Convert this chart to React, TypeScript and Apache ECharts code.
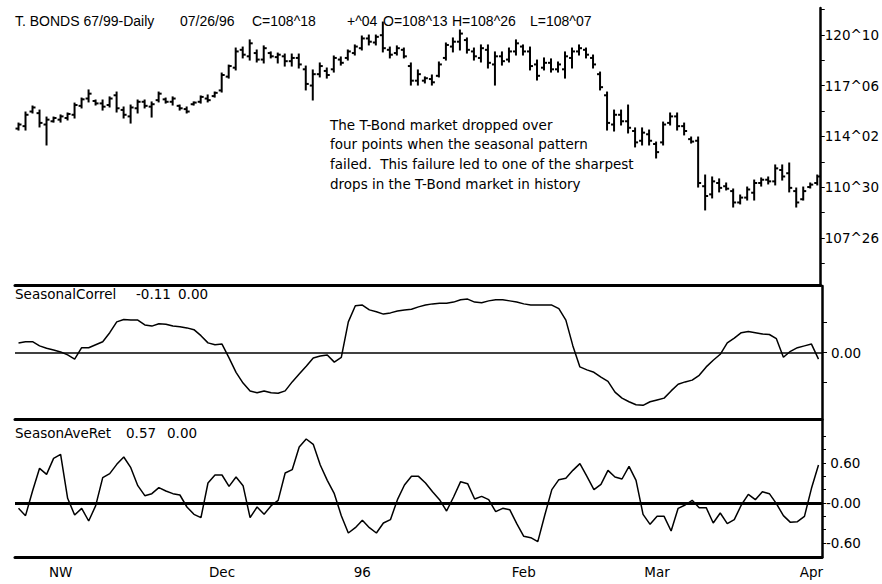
import React, { useEffect, useRef } from 'react';
import * as echarts from 'echarts';

const FONT = '"DejaVu Sans", Arial, Helvetica, sans-serif';
const TITLE_FONT = '"Liberation Sans", Arial, Helvetica, sans-serif';
const FS = 13.5;

// Daily T-Bond bars (points, decimal)
const highs = [
  114.89, 115.57, 115.94, 115.69, 115.26, 115.26, 115.39, 115.51, 116.12, 116.43,
  116.93, 116.31, 116.31, 116.5, 116.8, 115.88, 116.0, 116.31, 116.31, 116.19,
  116.8, 116.43, 116.5, 116.0, 115.88, 116.19, 116.56, 116.62, 116.8, 117.97,
  118.46, 119.51, 119.57, 120.01, 119.39, 119.64, 119.27, 119.2, 119.14, 119.14,
  119.14, 118.4, 118.16, 118.59, 118.28, 119.02, 118.96, 119.39, 119.7, 120.25,
  120.31, 120.31, 121.11, 119.57, 119.64, 119.51, 118.59, 118.16, 117.73, 117.85,
  118.65, 119.82, 120.13, 120.62, 120.13, 119.51, 119.7, 119.7, 119.27, 119.27,
  119.51, 120.01, 119.7, 119.57, 118.77, 118.9, 118.84, 118.65, 119.27, 119.51,
  119.7, 119.51, 119.08, 118.03, 116.8, 115.69, 115.69, 116.0, 114.59, 114.59,
  114.46, 113.72, 114.95, 115.51, 115.51, 114.89, 114.03, 114.03, 111.69, 111.57,
  111.45, 111.2, 110.83, 110.46, 110.95, 111.38, 111.51, 111.57, 112.31, 112.31,
  112.43, 110.89, 110.95, 111.2, 111.69,
];
const lows = [
  114.46, 114.46, 115.51, 114.65, 113.54, 114.95, 114.95, 115.08, 115.2, 115.82,
  116.19, 116.0, 115.69, 115.88, 115.57, 115.2, 114.89, 115.51, 115.82, 115.26,
  116.19, 116.12, 116.0, 115.69, 115.51, 116.0, 116.12, 116.19, 116.49, 116.8,
  117.66, 118.16, 118.9, 118.77, 118.65, 118.59, 118.9, 118.59, 118.4, 118.4,
  118.28, 116.93, 116.31, 117.73, 117.66, 118.03, 118.46, 118.77, 119.08, 119.39,
  119.7, 119.7, 119.27, 118.9, 119.08, 118.9, 117.23, 117.23, 117.36, 117.23,
  117.73, 118.77, 119.27, 119.39, 119.2, 118.77, 118.65, 118.28, 117.23, 118.46,
  118.65, 119.08, 119.08, 118.16, 117.54, 118.16, 118.03, 118.03, 117.66, 118.28,
  119.08, 118.9, 118.28, 116.93, 114.46, 114.4, 114.77, 114.28, 113.42, 113.54,
  113.54, 112.74, 113.54, 114.77, 114.46, 114.16, 113.66, 110.95, 109.54, 110.28,
  110.65, 110.77, 109.72, 109.91, 110.15, 110.15, 111.01, 111.14, 111.08, 111.38,
  110.65, 109.72, 110.15, 110.89, 111.08,
];
const opens = [
  114.55, 114.7, 115.6, 115.5, 114.8, 115.0, 115.1, 115.2, 115.4, 115.95,
  116.4, 116.25, 116.1, 116.0, 116.6, 115.7, 115.3, 115.8, 116.2, 115.9,
  116.3, 116.35, 116.2, 115.95, 115.75, 116.05, 116.2, 116.4, 116.55, 116.9,
  117.75, 118.3, 119.4, 119.0, 119.2, 118.8, 119.2, 118.95, 119.0, 118.7,
  118.9, 118.2, 117.2, 117.9, 118.1, 118.2, 118.8, 118.9, 119.2, 119.5,
  120.1, 119.85, 120.3, 119.4, 119.2, 119.4, 118.4, 117.5, 117.5, 117.6,
  117.8, 118.9, 119.6, 119.9, 120.0, 119.3, 118.9, 119.4, 118.5, 119.0,
  118.8, 119.3, 119.6, 119.3, 118.5, 118.3, 118.6, 118.2, 118.2, 118.9,
  119.3, 119.4, 118.9, 117.9, 116.6, 114.8, 115.4, 115.0, 114.4, 113.8,
  114.2, 113.6, 113.7, 114.9, 115.3, 114.7, 113.9, 113.8, 111.0, 110.5,
  111.2, 111.0, 110.7, 110.0, 110.3, 110.6, 111.2, 111.4, 111.3, 112.0,
  111.8, 110.7, 110.2, 110.95, 111.2,
];
const closes = [
  114.8, 115.4, 115.85, 114.9, 115.1, 115.2, 115.3, 115.45, 116.0, 116.35,
  116.7, 116.1, 115.9, 116.4, 115.8, 115.4, 115.85, 116.2, 115.95, 116.05,
  116.7, 116.2, 116.4, 115.8, 115.6, 116.15, 116.5, 116.3, 116.75, 117.85,
  118.4, 119.3, 119.1, 119.8, 118.8, 119.5, 119.0, 119.1, 118.7, 118.9,
  118.5, 117.3, 117.9, 118.4, 117.85, 118.9, 118.6, 119.3, 119.6, 120.1,
  119.9, 120.2, 119.5, 119.1, 119.5, 119.0, 117.5, 117.9, 117.65, 117.4,
  118.5, 119.7, 119.9, 120.4, 119.4, 119.0, 119.5, 118.6, 119.0, 118.7,
  119.3, 119.8, 119.3, 118.4, 117.8, 118.6, 118.2, 118.5, 119.0, 119.3,
  119.5, 119.1, 118.5, 117.1, 114.9, 115.4, 115.0, 114.6, 113.7, 114.3,
  113.8, 113.1, 114.8, 115.3, 114.7, 114.4, 113.75, 111.2, 110.4, 111.3,
  110.9, 110.85, 110.0, 110.3, 110.8, 111.2, 111.4, 111.3, 112.1, 111.6,
  110.9, 110.0, 110.7, 111.1, 111.6,
];

const seasonalCorrel = [
  0.16, 0.18, 0.18, 0.11, 0.07, 0.04, 0.01, -0.04, -0.11, 0.08,
  0.08, 0.13, 0.18, 0.33, 0.51, 0.55, 0.54, 0.54, 0.46, 0.44,
  0.48, 0.47, 0.44, 0.43, 0.41, 0.38, 0.28, 0.16, 0.13, 0.14,
  -0.09, -0.33, -0.51, -0.64, -0.67, -0.64, -0.67, -0.68, -0.64, -0.49,
  -0.36, -0.23, -0.09, -0.06, -0.04, -0.16, -0.08, 0.51, 0.78, 0.79,
  0.71, 0.68, 0.64, 0.66, 0.69, 0.71, 0.72, 0.76, 0.79, 0.81,
  0.82, 0.82, 0.84, 0.88, 0.89, 0.84, 0.83, 0.86, 0.88, 0.88,
  0.86, 0.84, 0.81, 0.79, 0.79, 0.79, 0.79, 0.73, 0.54, 0.11,
  -0.24, -0.29, -0.33, -0.41, -0.48, -0.66, -0.76, -0.82, -0.87, -0.88,
  -0.82, -0.79, -0.76, -0.64, -0.53, -0.49, -0.46, -0.38, -0.24, -0.13,
  -0.03, 0.16, 0.24, 0.33, 0.35, 0.33, 0.31, 0.3, 0.23, -0.08,
  0.02, 0.08, 0.11, 0.14, -0.11,
];

const seasonAveRet = [
  -0.08, -0.19, 0.18, 0.52, 0.43, 0.67, 0.73, 0.07, -0.18, -0.08,
  -0.27, -0.04, 0.38, 0.44, 0.58, 0.69, 0.53, 0.26, 0.11, 0.14,
  0.23, 0.18, 0.14, 0.12, -0.06, -0.17, -0.22, 0.3, 0.42, 0.42,
  0.25, 0.39, 0.26, -0.22, -0.06, -0.17, -0.04, 0.04, 0.45, 0.5,
  0.84, 0.96, 0.88, 0.57, 0.34, 0.14, -0.19, -0.45, -0.37, -0.26,
  -0.37, -0.45, -0.3, -0.25, 0.05, 0.27, 0.4, 0.4, 0.3, 0.17,
  0.05, -0.12, 0.09, 0.32, 0.29, 0.06, 0.1, 0.05, -0.13, -0.08,
  -0.1, -0.31, -0.5, -0.52, -0.58, -0.18, 0.2, 0.35, 0.37, 0.49,
  0.59, 0.4, 0.2, 0.28, 0.49, 0.39, 0.36, 0.55, 0.34, -0.17,
  -0.32, -0.2, -0.2, -0.42, -0.08, -0.03, 0.04, -0.07, -0.07, -0.3,
  -0.15, -0.31, -0.25, -0.03, 0.13, 0.05, 0.17, 0.14, -0.01, -0.19,
  -0.29, -0.28, -0.2, 0.22, 0.57,
];

const monthLabelIdx = [6, 29, 49, 72, 91, 113];
const monthLabels = ['NW', 'Dec', '96', 'Feb', 'Mar', 'Apr'];

const priceLabelValues = [107.8125, 110.9375, 114.0625, 117.1875, 120.3125];
const priceTickValues = [106.25, 107.8125, 109.375, 110.9375, 112.5, 114.0625, 115.625, 117.1875, 118.75, 120.3125, 121.875];
const correlLabelValues = [0];
const correlTickValues = [-0.5, 0, 0.5];
const retLabelValues = [-0.6, 0, 0.6];
const retTickValues = [-0.6, -0.4, -0.2, 0, 0.2, 0.4, 0.6, 0.8, 1.0];

const titleParts = [
  'T. BONDS 67/99-Daily',
  '07/26/96',
  'C=108^18',
  '+^04',
  'O=108^13',
  'H=108^26',
  'L=108^07',
];
const correlHeader = ['SeasonalCorrel', '-0.11', '0.00'];
const retHeader = ['SeasonAveRet', '0.57', '0.00'];
const noteLines = [
  'The T-Bond market dropped over',
  'four points when the seasonal pattern',
  'failed.  This failure led to one of the sharpest',
  'drops in the T-Bond market in history',
];

function to32nds(v: number): string {
  const w = Math.floor(v + 1e-9);
  const f = Math.round((v - w) * 32);
  return `${w}^${String(f).padStart(2, '0')}`;
}

export default function App() {
  const ref = useRef<HTMLDivElement>(null);

  useEffect(() => {
    if (!ref.current) return;
    const chart = echarts.init(ref.current, null, { renderer: 'svg' });
    const days = opens.map((_, i) => String(i));
    const ohlc = opens.map((o, i) => [i, o, closes[i], lows[i], highs[i]]);

    const txt = (text: string, x: number, y: number, font: string) => ({
      type: 'text',
      x,
      y,
      silent: true,
      style: { text, fill: '#000', font, verticalAlign: 'top', align: 'left' },
    });

    const titleX = [15, 180, 252, 347, 383, 452, 530];
    const correlX = [15, 136, 178];
    const retX = [15, 126, 167];
    const noteY = [117.5, 137.3, 157.1, 176.9];
    const bodyFont = `${FS}px ${FONT}`;
    const titleFont = `14px ${TITLE_FONT}`;

    const graphic: any[] = [];
    titleParts.forEach((t, i) => graphic.push(txt(t, titleX[i], 13.5, titleFont)));
    correlHeader.forEach((t, i) => graphic.push(txt(t, correlX[i], 286.5, bodyFont)));
    retHeader.forEach((t, i) => graphic.push(txt(t, retX[i], 425.5, bodyFont)));
    noteLines.forEach((t, i) => graphic.push(txt(t, 330, noteY[i], bodyFont)));

    const baseX = (show: boolean) => ({
      type: 'category',
      data: days,
      boundaryGap: true,
      axisLine: { show: true, onZero: false, lineStyle: { color: '#000', width: 3 } },
      axisTick: { show: false },
      axisLabel: show
        ? {
            show: true,
            interval: (index: number) => monthLabelIdx.indexOf(index) >= 0,
            formatter: (_v: string, index: number) => {
              const k = monthLabelIdx.indexOf(index);
              return k >= 0 ? monthLabels[k] : '';
            },
            color: '#000',
            fontFamily: FONT,
            fontSize: FS,
            margin: 8,
          }
        : { show: false },
      splitLine: { show: false },
    });

    const yLabel = {
      color: '#000',
      fontFamily: FONT,
      fontSize: FS,
      margin: 4,
    };

    chart.setOption({
      animation: false,
      backgroundColor: '#fff',
      grid: [
        { left: 15, right: 60, top: 8, height: 277 },
        { left: 15, right: 60, top: 286, height: 133 },
        { left: 15, right: 60, top: 420, height: 137 },
      ],
      xAxis: [
        { ...baseX(false), gridIndex: 0 },
        { ...baseX(false), gridIndex: 1 },
        { ...baseX(true), gridIndex: 2 },
      ],
      yAxis: [
        {
          type: 'value',
          gridIndex: 0,
          position: 'right',
          min: 104.918,
          max: 121.975,
          axisLine: { show: true, lineStyle: { color: '#000', width: 2.5 } },
          axisTick: { show: true, length: 4, customValues: priceTickValues, lineStyle: { color: '#000', width: 1 } },
          axisLabel: { ...yLabel, customValues: priceLabelValues, formatter: (v: number) => to32nds(v) },
          splitLine: { show: false },
        },
        {
          type: 'value',
          gridIndex: 1,
          position: 'right',
          min: -1.108,
          max: 1.108,
          axisLine: { show: true, lineStyle: { color: '#000', width: 2.5 } },
          axisTick: { show: true, length: 5, customValues: correlTickValues, lineStyle: { color: '#000', width: 1 } },
          axisLabel: { ...yLabel, margin: 9, customValues: correlLabelValues, formatter: (v: number) => v.toFixed(2) },
          splitLine: { show: false },
        },
        {
          type: 'value',
          gridIndex: 2,
          position: 'right',
          min: -0.81,
          max: 1.245,
          axisLine: { show: true, lineStyle: { color: '#000', width: 2.5 } },
          axisTick: { show: true, length: 4, customValues: retTickValues, lineStyle: { color: '#000', width: 1 } },
          axisLabel: {
            ...yLabel,
            customValues: retLabelValues,
            formatter: (v: number) => (Math.abs(v) < 1e-9 ? '-0.00' : v > 0 ? ' ' + v.toFixed(2) : v.toFixed(2)),
          },
          splitLine: { show: false },
        },
      ],
      series: [
        {
          type: 'custom',
          xAxisIndex: 0,
          yAxisIndex: 0,
          data: ohlc,
          encode: { x: 0, y: [1, 2, 3, 4] },
          silent: true,
          renderItem: (_params: any, api: any) => {
            const i = api.value(0);
            const o = api.coord([i, api.value(1)]);
            const c = api.coord([i, api.value(2)]);
            const l = api.coord([i, api.value(3)]);
            const h = api.coord([i, api.value(4)]);
            const x = h[0];
            const style = { stroke: '#000', lineWidth: 2 };
            return {
              type: 'group',
              children: [
                { type: 'line', shape: { x1: x, y1: h[1] - 0.5, x2: x, y2: l[1] + 0.5 }, style },
                { type: 'line', shape: { x1: x - 3, y1: o[1], x2: x, y2: o[1] }, style },
                { type: 'line', shape: { x1: x, y1: c[1], x2: x + 3, y2: c[1] }, style },
              ],
            };
          },
        },
        {
          type: 'line',
          xAxisIndex: 1,
          yAxisIndex: 1,
          data: seasonalCorrel,
          symbol: 'none',
          silent: true,
          lineStyle: { color: '#000', width: 1.5 },
          markLine: {
            silent: true,
            symbol: ['none', 'none'],
            label: { show: false },
            lineStyle: { color: '#000', width: 1.5, type: 'solid' },
            data: [{ yAxis: 0 }],
          },
        },
        {
          type: 'line',
          xAxisIndex: 2,
          yAxisIndex: 2,
          data: seasonAveRet,
          symbol: 'none',
          silent: true,
          lineStyle: { color: '#000', width: 1.5 },
          markLine: {
            silent: true,
            symbol: ['none', 'none'],
            label: { show: false },
            lineStyle: { color: '#000', width: 3, type: 'solid' },
            data: [{ yAxis: 0 }],
          },
        },
      ],
      graphic,
    });

    return () => chart.dispose();
  }, []);

  return <div ref={ref} style={{ width: 882, height: 584, position: 'absolute', left: 0, top: 0 }} />;
}
